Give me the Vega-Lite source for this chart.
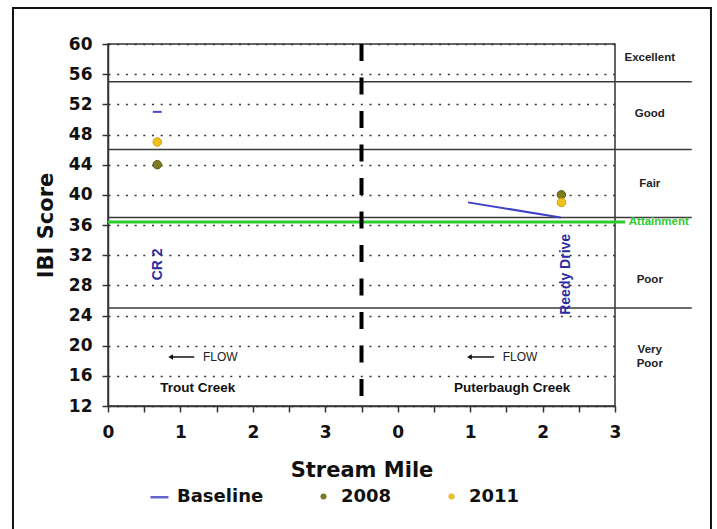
{
  "$schema": "https://vega.github.io/schema/vega-lite/v6.json",
  "autosize": {"type": "none"},
  "width": 507,
  "height": 362,
  "padding": {"left": 108, "top": 44, "right": 102, "bottom": 123},
  "background": "white",
  "config": {
    "view": {"stroke": "#333", "strokeWidth": 1.5},
    "axis": {
      "labelFont": "DejaVu Sans", "labelFontWeight": "bold", "labelFontSize": 17, "labelColor": "#111",
      "titleFont": "DejaVu Sans", "titleFontWeight": "bold", "titleFontSize": 21, "titleColor": "#111",
      "domainColor": "#333", "domainWidth": 1.5, "tickColor": "#333", "tickWidth": 1.5, "tickSize": 6,
      "labelFlush": false, "labelOverlap": false
    }
  },
  "layer": [
    {
      "data": {"values": [{}]},
      "mark": {"type": "rect", "fill": "transparent", "stroke": "#111", "strokeWidth": 2, "clip": false},
      "encoding": {
        "x": {"datum": -1.312, "type": "quantitative", "scale": {"domain": [0, 7], "nice": false, "zero": false},
          "axis": {
            "values": [0, 0.5, 1, 1.5, 2, 2.5, 3, 3.5, 4, 4.5, 5, 5.5, 6, 6.5, 7],
            "tickCount": 30,
            "labelExpr": "datum.value % 1 === 0 ? '' + (datum.value > 3.5 ? datum.value - 4 : datum.value) : ''",
            "labelPadding": 12, "grid": false,
            "title": "Stream Mile", "titleBaseline": "middle", "titleY": 64
          }},
        "x2": {"datum": 8.325},
        "y": {"datum": 64.77, "type": "quantitative", "scale": {"domain": [12, 60], "nice": false, "zero": false},
          "axis": {
            "values": [12, 16, 20, 24, 28, 32, 36, 40, 44, 48, 52, 56, 60],
            "tickCount": 30,
            "labelPadding": 10,
            "grid": true, "gridDash": [2, 6.7], "gridColor": "#333", "gridWidth": 1.6,
            "title": "IBI Score", "titleX": -62, "titleY": 181, "titleBaseline": "middle"
          }},
        "y2": {"datum": -12}
      }
    },
    {
      "data": {"values": [{"bound": 55}, {"bound": 46}, {"bound": 37}, {"bound": 25}]},
      "mark": {"type": "rule", "stroke": "#3a3a3a", "strokeWidth": 1.5, "clip": false},
      "encoding": {
        "x": {"datum": 0, "type": "quantitative"},
        "x2": {"datum": 8.06},
        "y": {"field": "bound", "type": "quantitative"}
      }
    },
    {
      "data": {"values": [{"attainment": 36.4}]},
      "mark": {"type": "rule", "stroke": "#2fcc2f", "strokeWidth": 3, "clip": false},
      "encoding": {
        "x": {"datum": 0, "type": "quantitative"},
        "x2": {"datum": 7.14},
        "y": {"field": "attainment", "type": "quantitative"}
      }
    },
    {
      "data": {"values": [{"divider": 3.5}]},
      "mark": {"type": "rule", "stroke": "#000", "strokeWidth": 4, "strokeDash": [17, 16.5]},
      "encoding": {
        "x": {"field": "divider", "type": "quantitative"},
        "y": {"datum": 60, "type": "quantitative"},
        "y2": {"datum": 12}
      }
    },
    {
      "data": {"values": [{"mile_axis": 4.97, "score": 39}, {"mile_axis": 6.25, "score": 37}]},
      "mark": {"type": "line", "stroke": "#4040c8", "strokeWidth": 2},
      "encoding": {
        "x": {"field": "mile_axis", "type": "quantitative"},
        "y": {"field": "score", "type": "quantitative"}
      }
    },
    {
      "data": {"values": [{"mile_start": 0.618, "mile_end": 0.742, "score": 51}]},
      "mark": {"type": "rule", "stroke": "#4848d0", "strokeWidth": 2},
      "encoding": {
        "x": {"field": "mile_start", "type": "quantitative"},
        "x2": {"field": "mile_end"},
        "y": {"field": "score", "type": "quantitative"}
      }
    },
    {
      "data": {"values": [{"series": "Baseline"}, {"series": "2008"}, {"series": "2011"}]},
      "mark": {"type": "point", "filled": true, "opacity": 1},
      "encoding": {
        "x": {"field": "mile_axis", "type": "quantitative"},
        "y": {"field": "score", "type": "quantitative"},
        "fill": {"field": "series", "type": "nominal",
          "scale": {"domain": ["Baseline", "2008", "2011"], "range": ["#4848c8", "#7d7d1e", "#f2c21c"]},
          "legend": {
            "title": null, "orient": "none", "legendX": 41, "legendY": 442.5, "direction": "horizontal", "columns": 3,
            "padding": 0, "labelOffset": 7, "columnPadding": 49, "symbolOpacity": 1,
            "labelFont": "DejaVu Sans", "labelFontSize": 18, "labelFontWeight": "bold", "labelColor": "#111"
          }},
        "stroke": {"field": "series", "type": "nominal",
          "scale": {"domain": ["Baseline", "2008", "2011"], "range": ["#6464cc", "#5a5a14", "#c9a010"]}},
        "shape": {"field": "series", "type": "nominal",
          "scale": {"domain": ["Baseline", "2008", "2011"], "range": ["stroke", "circle", "circle"]}},
        "size": {"field": "series", "type": "nominal",
          "scale": {"type": "ordinal", "domain": ["Baseline", "2008", "2011"], "range": [324, 30, 30]}},
        "strokeWidth": {"field": "series", "type": "nominal",
          "scale": {"type": "ordinal", "domain": ["Baseline", "2008", "2011"], "range": [2.5, 0.5, 0.5]}}
      }
    },
    {
      "data": {"values": [
        {"stream": "Trout Creek", "mile_axis": 0.68, "series": "2008", "score": 44},
        {"stream": "Puterbaugh Creek", "mile_axis": 6.26, "series": "2008", "score": 40},
        {"stream": "Trout Creek", "mile_axis": 0.68, "series": "2011", "score": 47},
        {"stream": "Puterbaugh Creek", "mile_axis": 6.26, "series": "2011", "score": 39}
      ]},
      "mark": {"type": "circle", "size": 72, "strokeWidth": 1, "opacity": 1},
      "encoding": {
        "x": {"field": "mile_axis", "type": "quantitative"},
        "y": {"field": "score", "type": "quantitative"},
        "fill": {"field": "series", "type": "nominal"},
        "stroke": {"field": "series", "type": "nominal"}
      }
    },
    {
      "data": {"values": [
        {"label": "Excellent", "score": 58.1},
        {"label": "Good", "score": 50.7},
        {"label": "Fair", "score": 41.5},
        {"label": "Poor", "score": 28.75},
        {"label": "Very\nPoor", "score": 19.4}
      ]},
      "mark": {"type": "text", "font": "Liberation Sans", "fontWeight": "bold", "fontSize": 11.5, "color": "#222", "lineBreak": "\n", "lineHeight": 14, "clip": false},
      "encoding": {
        "x": {"datum": 7.48, "type": "quantitative"},
        "y": {"field": "score", "type": "quantitative"},
        "text": {"field": "label"}
      }
    },
    {
      "data": {"values": [{"label": "Attainment", "score": 36.35}]},
      "mark": {"type": "text", "font": "Liberation Sans", "fontWeight": "bold", "fontSize": 11.5, "color": "#2fcc2f", "align": "left", "clip": false},
      "encoding": {
        "x": {"datum": 7.19, "type": "quantitative"},
        "y": {"field": "score", "type": "quantitative"},
        "text": {"field": "label"}
      }
    },
    {
      "data": {"values": [
        {"label": "CR 2", "mile_axis": 0.694, "score": 30.78},
        {"label": "Reedy Drive", "mile_axis": 6.33, "score": 29.46}
      ]},
      "mark": {"type": "text", "font": "Liberation Sans", "fontWeight": "bold", "fontSize": 14, "color": "#2b2ba0", "angle": 270},
      "encoding": {
        "x": {"field": "mile_axis", "type": "quantitative"},
        "y": {"field": "score", "type": "quantitative"},
        "text": {"field": "label"}
      }
    },
    {
      "data": {"values": [{"x_head": 0.865, "x_tail": 1.19, "y": 18.5}, {"x_head": 4.99, "x_tail": 5.33, "y": 18.5}]},
      "layer": [
        {
          "mark": {"type": "rule", "stroke": "#111", "strokeWidth": 1.5},
          "encoding": {
            "x": {"field": "x_head", "type": "quantitative"},
            "x2": {"field": "x_tail"},
            "y": {"field": "y", "type": "quantitative"}
          }
        },
        {
          "mark": {"type": "point", "shape": "triangle-left", "filled": true, "color": "#111", "size": 30, "opacity": 1},
          "encoding": {
            "x": {"field": "x_head", "type": "quantitative"},
            "y": {"field": "y", "type": "quantitative"}
          }
        }
      ]
    },
    {
      "data": {"values": [{"label": "FLOW", "mile_axis": 1.31, "score": 18.5}, {"label": "FLOW", "mile_axis": 5.45, "score": 18.5}]},
      "mark": {"type": "text", "font": "Liberation Sans", "fontSize": 12, "color": "#222", "align": "left"},
      "encoding": {
        "x": {"field": "mile_axis", "type": "quantitative"},
        "y": {"field": "score", "type": "quantitative"},
        "text": {"field": "label"}
      }
    },
    {
      "data": {"values": [{"label": "Trout Creek", "mile_axis": 1.24, "score": 14.35}, {"label": "Puterbaugh Creek", "mile_axis": 5.58, "score": 14.35}]},
      "mark": {"type": "text", "font": "Liberation Sans", "fontWeight": "bold", "fontSize": 13.5, "color": "#111"},
      "encoding": {
        "x": {"field": "mile_axis", "type": "quantitative"},
        "y": {"field": "score", "type": "quantitative"},
        "text": {"field": "label"}
      }
    }
  ]
}
